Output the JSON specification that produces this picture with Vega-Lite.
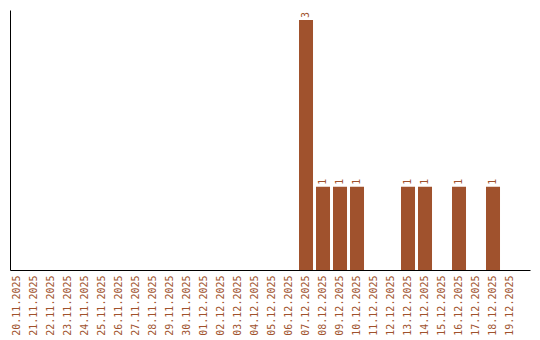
{
  "$schema": "https://vega.github.io/schema/vega-lite/v6.json",
  "width": 520,
  "height": 260,
  "autosize": {"type": "none"},
  "padding": {"left": 10, "top": 10, "right": 10, "bottom": 70},
  "background": "white",
  "config": {"view": {"stroke": null}},
  "data": {
    "values": [
      {"date": "20.11.2025", "count": 0},
      {"date": "21.11.2025", "count": 0},
      {"date": "22.11.2025", "count": 0},
      {"date": "23.11.2025", "count": 0},
      {"date": "24.11.2025", "count": 0},
      {"date": "25.11.2025", "count": 0},
      {"date": "26.11.2025", "count": 0},
      {"date": "27.11.2025", "count": 0},
      {"date": "28.11.2025", "count": 0},
      {"date": "29.11.2025", "count": 0},
      {"date": "30.11.2025", "count": 0},
      {"date": "01.12.2025", "count": 0},
      {"date": "02.12.2025", "count": 0},
      {"date": "03.12.2025", "count": 0},
      {"date": "04.12.2025", "count": 0},
      {"date": "05.12.2025", "count": 0},
      {"date": "06.12.2025", "count": 0},
      {"date": "07.12.2025", "count": 3},
      {"date": "08.12.2025", "count": 1},
      {"date": "09.12.2025", "count": 1},
      {"date": "10.12.2025", "count": 1},
      {"date": "11.12.2025", "count": 0},
      {"date": "12.12.2025", "count": 0},
      {"date": "13.12.2025", "count": 1},
      {"date": "14.12.2025", "count": 1},
      {"date": "15.12.2025", "count": 0},
      {"date": "16.12.2025", "count": 1},
      {"date": "17.12.2025", "count": 0},
      {"date": "18.12.2025", "count": 1},
      {"date": "19.12.2025", "count": 0}
    ]
  },
  "encoding": {
    "x": {
      "field": "date",
      "type": "ordinal",
      "sort": null,
      "scale": {"paddingInner": 0.176, "paddingOuter": 0.382, "align": 0},
      "axis": {
        "title": null,
        "labelAngle": -90,
        "labelAlign": "right",
        "labelBaseline": "middle",
        "labelPadding": 5,
        "labelFont": "DejaVu Sans Mono",
        "labelFontSize": 10,
        "labelColor": "#A0522D",
        "ticks": false,
        "domainColor": "black",
        "domainWidth": 1,
        "grid": false
      }
    },
    "y": {
      "field": "count",
      "type": "quantitative",
      "scale": {"domain": [0, 3.12], "nice": false},
      "axis": {
        "title": null,
        "labels": false,
        "ticks": false,
        "grid": false,
        "domainColor": "black",
        "domainWidth": 1
      }
    }
  },
  "layer": [
    {
      "mark": {"type": "bar", "color": "#A0522D"}
    },
    {
      "transform": [{"filter": "datum.count > 0"}],
      "mark": {
        "type": "text",
        "angle": 270,
        "align": "left",
        "baseline": "middle",
        "dx": 2,
        "font": "DejaVu Sans Mono",
        "fontSize": 10,
        "color": "#A0522D",
        "xOffset": 0
      },
      "encoding": {
        "text": {"field": "count", "type": "quantitative"}
      }
    }
  ]
}
